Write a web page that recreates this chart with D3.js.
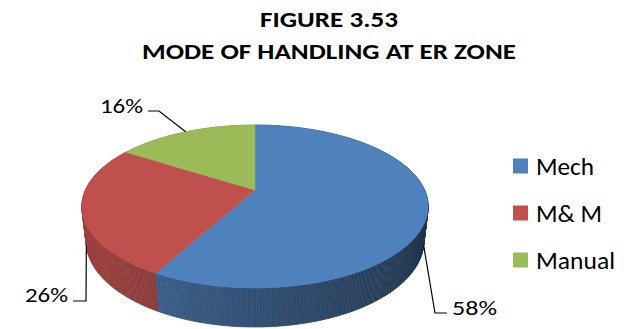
<!DOCTYPE html>
<html>
<head>
<meta charset="utf-8">
<script src="https://cdn.jsdelivr.net/npm/d3@7"></script>
<style>
  html, body { margin: 0; padding: 0; background: #ffffff; }
  svg { display: block; }
</style>
</head>
<body>
<svg id="chart" width="635" height="329"></svg>
<script>
// ---- data ----
const titleLines = ["FIGURE 3.53", "MODE OF HANDLING AT ER ZONE"];
const categories = ["Mech", "M& M", "Manual"];
const values = [58, 26, 16];
const colors = ["#4f81bd", "#c0504d", "#9bbb59"];

// ---- layout ----
const W = 635, H = 329;
const FONT = "Carlito, Calibri, Lato, 'Liberation Sans', sans-serif";
const svg = d3.select("#chart");

// 3-D pie camera: unit-radius disc seen from above with perspective
const cam = { cx: 255, cy: 190, s: 0.461, D: 4.38, f: 742.6, h: 0.229 };
cam.k = Math.sqrt(1 - cam.s * cam.s);
function proj(X, Y, Z) {
  const vy = Z * cam.s + Y * cam.k;
  const depth = cam.D + Z * cam.k - Y * cam.s;
  return [cam.cx + cam.f * X / depth, cam.cy - cam.f * vy / depth];
}
const rim = (a, Y) => proj(Math.sin(a), Y, Math.cos(a));

const total = d3.sum(values);
const pct = d3.format(".0%");
const pie = d3.pie().sort(null).startAngle(0).endAngle(2 * Math.PI);
const arcs = pie(values);

// side shading: lit from the front-left
const lightDir = 280 * Math.PI / 180;
const shade = (base, a) => {
  const b = 0.64 + 0.224 * Math.cos(a - lightDir);
  const c = d3.rgb(base);
  return d3.rgb(c.r * b, c.g * b, c.b * b).formatHex();
};

// ---- walls (sorted far to near) ----
const step = Math.PI / 360;
const walls = [];
arcs.forEach((d, i) => {
  for (let a = d.startAngle; a < d.endAngle - 1e-9; a += step) {
    const a2 = Math.min(a + step, d.endAngle);
    const m = (a + a2) / 2;
    walls.push({
      pts: [rim(a, 0), rim(a2, 0), rim(a2, -cam.h), rim(a, -cam.h)],
      z: Math.cos(m),
      fill: shade(colors[i], m)
    });
  }
});
walls.sort((p, q) => q.z - p.z);

const gPie = svg.append("g");
gPie.selectAll("path.wall").data(walls).join("path")
  .attr("class", "wall")
  .attr("d", w => "M" + w.pts.map(p => p.join(",")).join("L") + "Z")
  .attr("fill", w => w.fill)
  .attr("stroke", w => w.fill)
  .attr("stroke-width", 0.6);

// ---- top faces ----
const lineGen = d3.line();
gPie.selectAll("path.top").data(arcs).join("path")
  .attr("class", "top")
  .attr("d", d => {
    const pts = [proj(0, 0, 0)];
    const n = Math.max(2, Math.ceil((d.endAngle - d.startAngle) / step));
    for (let j = 0; j <= n; j++) {
      pts.push(rim(d.startAngle + (d.endAngle - d.startAngle) * j / n, 0));
    }
    return lineGen(pts) + "Z";
  })
  .attr("fill", (d, i) => colors[i])
  .attr("stroke", (d, i) => colors[i])
  .attr("stroke-width", 0.5);

// ---- text helper: fit to a measured width ----
function fitWidth(sel, w) {
  sel.each(function () {
    const cur = this.getComputedTextLength();
    if (Math.abs(cur - w) > 1) {
      d3.select(this).attr("textLength", w).attr("lengthAdjust", "spacingAndGlyphs");
    }
  });
}

// ---- title ----
const titleSpec = [
  { y: 27, w: 138 },
  { y: 59, w: 374 }
];
titleLines.forEach((t, i) => {
  svg.append("text")
    .attr("x", 329).attr("y", titleSpec[i].y)
    .attr("text-anchor", "middle")
    .attr("font-family", FONT).attr("font-weight", "bold")
    .attr("font-size", 23).attr("fill", "#000")
    .text(t)
    .call(fitWidth, titleSpec[i].w);
});

// ---- data labels with leader lines ----
const labelSpec = [
  { Y: -cam.h, elbow: [435, 313], end: [447, 313], tx: 452, ty: 315, anchor: "start", w: 45 },
  { Y: -cam.h, elbow: [86, 301], end: [73, 301], tx: 68, ty: 302, anchor: "end", w: 43 },
  { Y: 0, elbow: [159, 111], end: [148, 111], tx: 143, ty: 113, anchor: "end", w: 43 }
];
const gLab = svg.append("g");
arcs.forEach((d, i) => {
  const spec = labelSpec[i];
  const mid = (d.startAngle + d.endAngle) / 2;
  const p0 = rim(mid, spec.Y);
  gLab.append("path")
    .attr("d", lineGen([p0, spec.elbow, spec.end]))
    .attr("fill", "none").attr("stroke", "#000").attr("stroke-width", 1.2);
  gLab.append("text")
    .attr("x", spec.tx).attr("y", spec.ty)
    .attr("text-anchor", spec.anchor)
    .attr("font-family", FONT).attr("font-size", 21).attr("fill", "#000")
    .text(pct(values[i] / total))
    .call(fitWidth, spec.w);
});

// ---- legend ----
const legendY = d3.scalePoint().domain(categories).range([174, 268]);
const legendW = [58, 66, 79];
const gLeg = svg.append("g");
categories.forEach((c, i) => {
  const by = legendY(c);
  gLeg.append("rect")
    .attr("x", 513).attr("y", by - 15.5).attr("width", 15).attr("height", 15)
    .attr("fill", colors[i]);
  gLeg.append("text")
    .attr("x", 536).attr("y", by + 1)
    .attr("font-family", FONT).attr("font-size", 24).attr("fill", "#000")
    .text(c)
    .call(fitWidth, legendW[i]);
});
</script>
</body>
</html>
